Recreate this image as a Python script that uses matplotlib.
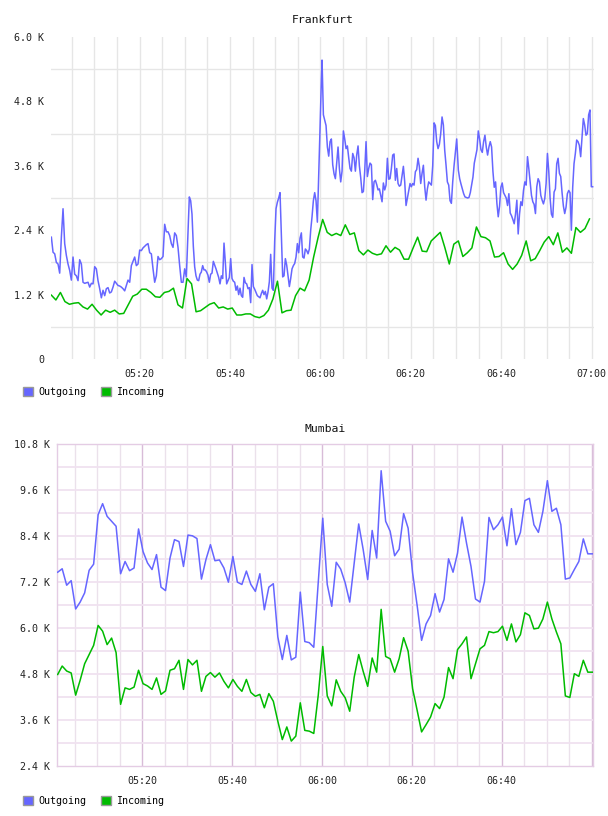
import matplotlib.pyplot as plt
import numpy as np
from matplotlib.patches import Patch
from matplotlib.ticker import FuncFormatter

# minutes after 05:00, values in thousands

# Frankfurt outgoing, read in four stretches (start, end minute)
fra_out_a = [2.27, 1.99, 1.96, 1.80, 1.77, 1.60, 2.27, 2.80, 2.15, 1.93, 1.77, 1.65, 1.47, 1.90,
             1.58, 1.55, 1.46, 1.85, 1.77, 1.43, 1.41, 1.42, 1.43, 1.34, 1.41, 1.40, 1.72, 1.68,
             1.46, 1.31, 1.14, 1.28, 1.18, 1.31, 1.33, 1.23, 1.25, 1.34, 1.45, 1.41, 1.37, 1.36,
             1.34, 1.31, 1.27, 1.37, 1.47, 1.43, 1.74, 1.82, 1.90, 1.74, 1.77, 2.03, 2.02, 2.07,
             2.10, 2.13, 2.15, 1.98, 1.96, 1.68, 1.43, 1.55, 1.91, 1.85, 1.87, 1.91, 2.51, 2.37,
             2.37, 2.30, 2.15, 2.08, 2.35, 2.30, 2.08, 1.74, 1.43, 1.43, 1.68, 1.53]
fra_out_b = [3.02, 2.95, 2.70, 2.10, 1.72, 1.55, 1.47, 1.46, 1.58, 1.62, 1.74, 1.66, 1.66, 1.62,
             1.56, 1.43, 1.58, 1.60, 1.82, 1.75, 1.68, 1.60, 1.52, 1.40, 1.55, 1.50, 2.16, 1.80,
             1.40, 1.46, 1.52, 1.87, 1.50, 1.45, 1.43, 1.28, 1.36, 1.20, 1.32, 1.18, 1.15, 1.52,
             1.42, 1.40, 1.31, 1.33, 1.05, 1.76, 1.35, 1.30, 1.24, 1.18, 1.16, 1.14, 1.22, 1.28,
             1.20, 1.26, 1.12, 1.25, 1.44, 1.95, 1.32, 1.28, 2.20, 2.80, 2.92, 3.00, 3.10, 2.30,
             1.53, 1.55, 1.87, 1.75, 1.55, 1.35, 1.50, 1.68, 1.74, 1.78, 1.90, 2.15, 1.98, 2.25,
             2.35, 1.90, 1.88, 2.05, 2.02, 1.96, 2.05, 2.40, 2.65, 2.95, 3.10, 2.95, 2.55, 3.40,
             4.30, 5.20]
fra_out_c = [5.57, 4.55, 4.45, 4.35, 3.95, 3.78, 4.05, 4.10, 3.62, 3.45, 3.36, 3.65, 3.95, 3.55,
             3.30, 3.50, 4.25, 4.10, 3.92, 3.97, 3.75, 3.55, 3.50, 3.83, 3.75, 3.50, 3.80, 3.97,
             3.60, 3.38, 3.10, 3.12, 3.50, 4.05, 3.40, 3.55, 3.65, 3.62, 2.97, 3.30, 3.33, 3.25,
             3.15, 3.17, 3.05, 2.93, 3.28, 3.15, 3.24, 3.74, 3.35, 3.36, 3.55, 3.80, 3.82, 3.33,
             3.55, 3.27, 3.22, 3.24, 3.42, 3.59, 3.30, 2.86, 3.00, 3.15, 3.27, 3.21, 3.27, 3.24,
             3.49, 3.53, 3.74, 3.58, 3.27, 3.46, 3.61, 3.21, 2.96, 3.17, 3.30, 3.27, 3.24, 3.60,
             4.40, 4.35, 4.05, 3.92, 4.00, 4.20, 4.51, 4.36, 3.89, 3.61, 3.30, 3.24, 2.95, 2.90,
             3.30, 3.60, 3.86, 4.10]
fra_out_d = [3.52, 3.36, 3.26, 3.17, 3.08, 3.02, 3.01, 3.00, 3.01, 3.10, 3.25, 3.39, 3.65, 3.78,
             3.90, 4.25, 4.10, 3.90, 3.85, 4.05, 4.17, 3.95, 3.80, 3.95, 4.05, 3.95, 3.50, 3.20,
             3.30, 2.90, 2.65, 2.85, 3.20, 3.28, 3.10, 3.05, 3.00, 2.86, 3.08, 2.72, 2.67, 2.60,
             2.52, 2.70, 2.96, 2.33, 2.70, 2.93, 2.86, 3.14, 3.30, 3.24, 3.77, 3.55, 3.30, 3.05,
             2.93, 2.88, 2.71, 3.21, 3.36, 3.30, 3.05, 2.96, 2.89, 2.99, 3.27, 3.83, 3.50, 3.00,
             2.70, 2.64, 3.11, 3.17, 3.64, 3.74, 3.46, 3.40, 3.10, 2.85, 2.71, 2.83, 3.08, 3.14,
             3.10, 2.40, 3.20, 3.64, 3.83, 4.08, 4.05, 3.98, 3.77, 4.14, 4.48, 4.36, 4.17, 4.20,
             4.55, 4.64, 3.21, 3.21]
fra_out_spans = [(0.50, 30.35), (31.01, 60.21), (60.36, 90.14), (90.50, 120.2)]

# Frankfurt incoming, one value a minute from 05:00:30
fra_in = [1.19, 1.10, 1.24, 1.07, 1.02, 1.04, 1.05, 0.97, 0.93, 1.02, 0.91, 0.82, 0.91, 0.87, 0.91,
          0.84, 0.85, 1.01, 1.17, 1.21, 1.30, 1.30, 1.24, 1.16, 1.15, 1.24, 1.26, 1.32, 1.01, 0.95,
          1.50, 1.40, 0.88, 0.90, 0.96, 1.02, 1.05, 0.95, 0.97, 0.93, 0.95, 0.82, 0.82, 0.84, 0.84,
          0.79, 0.77, 0.81, 0.91, 1.12, 1.45, 0.86, 0.90, 0.91, 1.18, 1.32, 1.27, 1.47, 1.90, 2.27,
          2.60, 2.36, 2.30, 2.34, 2.30, 2.50, 2.32, 2.35, 2.02, 1.94, 2.03, 1.97, 1.94, 1.96, 2.11,
          1.99, 2.08, 2.03, 1.86, 1.86, 2.07, 2.27, 2.01, 2.00, 2.20, 2.28, 2.36, 2.08, 1.77, 2.14,
          2.20, 1.91, 1.98, 2.07, 2.46, 2.28, 2.26, 2.20, 1.90, 1.91, 1.98, 1.77, 1.67, 1.77, 1.93,
          2.20, 1.83, 1.87, 2.02, 2.18, 2.28, 2.13, 2.35, 1.99, 2.07, 1.97, 2.45, 2.36, 2.43, 2.61]
fra_in_start = 0.5

# Mumbai, one value a minute from 05:01:10
mum_out = [7.46, 7.55, 7.12, 7.24, 6.50, 6.68, 6.92, 7.51, 7.67, 8.96, 9.25, 8.92, 8.79, 8.66, 7.42,
           7.74, 7.50, 7.57, 8.59, 8.00, 7.70, 7.53, 7.92, 7.07, 6.98, 7.83, 8.31, 8.26, 7.61, 8.43,
           8.41, 8.34, 7.28, 7.79, 8.18, 7.76, 7.78, 7.57, 7.20, 7.87, 7.20, 7.14, 7.49, 7.14, 6.96,
           7.42, 6.48, 7.07, 7.16, 5.77, 5.18, 5.81, 5.17, 5.24, 6.94, 5.65, 5.62, 5.50, 7.20, 8.87,
           7.14, 6.57, 7.72, 7.54, 7.18, 6.68, 7.70, 8.72, 8.05, 7.27, 8.55, 7.83, 10.11, 8.79, 8.53,
           7.89, 8.06, 8.99, 8.61, 7.44, 6.60, 5.68, 6.11, 6.33, 6.90, 6.42, 6.75, 7.81, 7.46, 7.96,
           8.90, 8.22, 7.61, 6.76, 6.68, 7.22, 8.89, 8.57, 8.70, 8.90, 8.15, 9.12, 8.18, 8.50, 9.33,
           9.39, 8.70, 8.50, 9.05, 9.85, 9.05, 9.13, 8.70, 7.28, 7.31, 7.53, 7.74, 8.33, 7.94, 7.94]
mum_in = [4.79, 5.01, 4.88, 4.83, 4.25, 4.64, 5.07, 5.31, 5.55, 6.07, 5.92, 5.57, 5.74, 5.36, 4.01,
          4.44, 4.40, 4.46, 4.90, 4.55, 4.49, 4.40, 4.70, 4.27, 4.36, 4.90, 4.94, 5.16, 4.40, 5.18,
          5.04, 5.16, 4.35, 4.74, 4.84, 4.72, 4.83, 4.61, 4.44, 4.66, 4.48, 4.35, 4.66, 4.32, 4.22,
          4.27, 3.92, 4.29, 4.09, 3.57, 3.09, 3.42, 3.05, 3.18, 4.05, 3.33, 3.31, 3.25, 4.25, 5.52,
          4.23, 3.97, 4.65, 4.35, 4.18, 3.83, 4.72, 5.31, 4.87, 4.48, 5.22, 4.85, 6.49, 5.26, 5.20,
          4.85, 5.20, 5.75, 5.40, 4.42, 3.86, 3.29, 3.48, 3.68, 4.03, 3.90, 4.20, 4.97, 4.68, 5.44,
          5.59, 5.77, 4.68, 5.07, 5.46, 5.55, 5.91, 5.88, 5.91, 6.05, 5.68, 6.11, 5.64, 5.83, 6.40,
          6.33, 5.98, 6.00, 6.24, 6.68, 6.24, 5.90, 5.59, 4.23, 4.19, 4.81, 4.74, 5.16, 4.85, 4.85]
mum_start = 1.17

fra_ticks = [20, 40, 60, 80, 100, 120]
fra_labels = ['05:20', '05:40', '06:00', '06:20', '06:40', '07:00']
mum_ticks = [20, 40, 60, 80, 100]
mum_labels = ['05:20', '05:40', '06:00', '06:20', '06:40']
series_names = ['Outgoing', 'Incoming']

c_out = '#6666ff'
c_in = '#00bb00'
mono = 'DejaVu Sans Mono'
fs = 7.2

plt.rcParams['font.family'] = mono

fig = plt.figure(figsize=(6.08, 8.16), dpi=100)


def kfmt(v, pos):
    if abs(v) < 1e-9:
        return '0'
    return '%.1f K' % v


def style(ax, xlim, ylim, ylabels_at, ticks, labels):
    ax.set_xlim(*xlim)
    ax.set_ylim(*ylim)
    ax.set_yticks(ylabels_at)
    ax.yaxis.set_major_formatter(FuncFormatter(kfmt))
    ax.set_xticks(ticks)
    ax.set_xticklabels(labels)
    ax.tick_params(length=0, labelsize=fs, colors='#222222')
    ax.tick_params(axis='y', pad=5)
    ax.tick_params(axis='x', pad=7.5)
    ax.grid(False)


# ---- Frankfurt ----
ax1 = fig.add_axes([51 / 608, 1 - 359 / 816, 543 / 608, 322 / 816])
style(ax1, (0.42, 120.5), (0, 6.0), np.arange(0, 6.01, 1.2), fra_ticks, fra_labels)
for s in ax1.spines.values():
    s.set_visible(False)
for m in range(5, 121, 5):
    ax1.axvline(m, color='#e6e6e6', lw=1, zorder=0)
for v in np.arange(0.6, 6.0, 1.2):
    ax1.axhline(v, color='#e6e6e6', lw=1, zorder=0)

out_t = np.concatenate([np.linspace(t0, t1, len(seg)) for seg, (t0, t1) in
                        zip([fra_out_a, fra_out_b, fra_out_c, fra_out_d], fra_out_spans)])
out_v = np.concatenate([fra_out_a, fra_out_b, fra_out_c, fra_out_d])
ax1.plot(out_t, out_v, color=c_out, lw=1.1, zorder=3)
ax1.plot(fra_in_start + np.arange(len(fra_in)), fra_in, color=c_in, lw=1.1, zorder=3)
ax1.set_title('Frankfurt', fontsize=8.2, pad=10, color='#111111')

# ---- Mumbai ----
ax2 = fig.add_axes([56.7 / 608, 1 - 766 / 816, 536.6 / 608, 321.7 / 816])
style(ax2, (0.95, 120.39), (2.4, 10.8), np.arange(2.4, 10.81, 1.2), mum_ticks, mum_labels)
for s in ax2.spines.values():
    s.set_color('#e4cce4')
    s.set_linewidth(1)
for m in range(5, 121, 5):
    ax2.axvline(m, color='#d8bcd8' if m % 20 == 0 else '#ebe1eb', lw=1, zorder=0)
for v in np.arange(3.0, 10.8, 0.6):
    ax2.axhline(v, color='#f0e2f0', lw=1.3, zorder=0)
tm = mum_start + np.arange(len(mum_out))
ax2.plot(tm, mum_out, color=c_out, lw=1.1, zorder=3)
ax2.plot(tm, mum_in, color=c_in, lw=1.1, zorder=3)
ax2.set_title('Mumbai', fontsize=8.2, pad=9, color='#111111')

# legends
handles = [Patch(facecolor=c_out, edgecolor='#999999', lw=1),
           Patch(facecolor=c_in, edgecolor='#999999', lw=1)]
for ytop in (387, 796):
    fig.legend(handles, series_names, loc='upper left',
               bbox_to_anchor=(23 / 608, 1 - ytop / 816), ncol=2, frameon=False,
               prop={'family': mono, 'size': fs}, handlelength=1.0, handleheight=1.0,
               handletextpad=0.5, columnspacing=1.5, borderaxespad=0, borderpad=0)

fig.savefig('out.png', dpi=100)
